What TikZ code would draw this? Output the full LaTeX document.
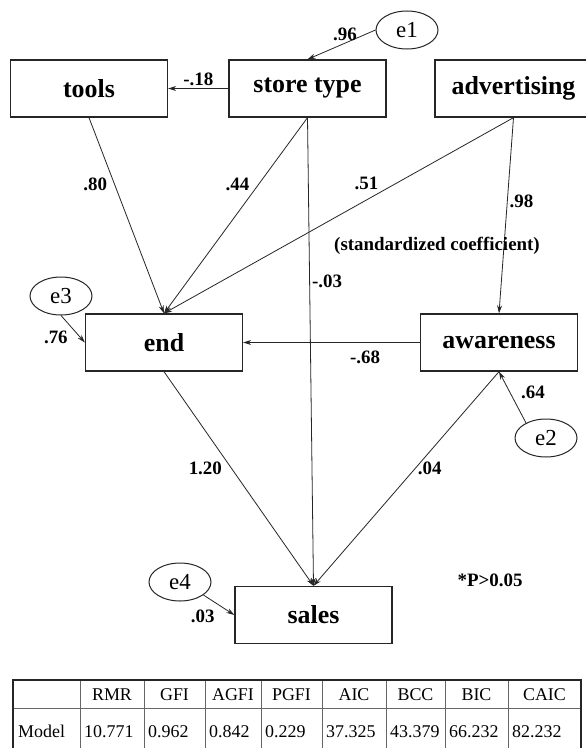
\documentclass[tikz,border=0pt]{standalone}
\usepackage{fontspec}
\setmainfont{Liberation Serif}
\usetikzlibrary{shapes.geometric,arrows.meta}
\begin{document}
\begin{tikzpicture}[x=1bp,y=-1bp,
  box/.style={rectangle,draw=black!85,line width=1.3bp,minimum width=157bp,minimum height=57bp,font=\bfseries\fontsize{26}{28}\selectfont},
  err/.style={ellipse,draw=black!85,line width=1bp,minimum width=62bp,minimum height=38bp,inner sep=0pt,font=\fontsize{23}{25}\selectfont},
  coef/.style={font=\bfseries\fontsize{19}{21}\selectfont,inner sep=2bp},
  link/.style={->,line width=0.8bp,draw=black!85},
  cell/.style={font=\fontsize{18}{20}\selectfont,inner sep=1bp},
  >={Stealth[length=8bp,width=5bp]}]
\useasboundingbox (0,0) rectangle (586,748);
\clip (0,0) rectangle (586,748);
\fill[white] (0,0) rectangle (586,748);
% variables
\node[box] (tools) at (89,88.5) {tools};
\node[box] (store) at (307.5,88.5) {store type};
\node[box] (adv) at (513.5,88.5) {advertising};
\node[box] (end) at (164,342.5) {end};
\node[box] (aware) at (499,342.5) {awareness};
\node[box] (sales) at (313.5,615) {sales};
% error terms
\node[err] (e1) at (407,30) {e1};
\node[err] (e2) at (546,438) {e2};
\node[err] (e3) at (61,296) {e3};
\node[err] (e4) at (180,582) {e4};
% paths
\draw[link] (e1.west) -- (store.north) node[coef,pos=0.45,above] {.96};
\draw[link] (store.west) -- (tools.east) node[coef,midway,above] {-.18};
\draw[link] (tools.south) -- (end.north) node[coef,pos=0.34,left=5bp] {.80};
\draw[link] (store.south) -- (end.north) node[coef,pos=0.34,left=7bp] {.44};
\draw[link] (adv.south) -- (end.north) node[coef,pos=0.38,above left] {.51};
\draw[link] (store.south) -- (sales.north) node[coef,pos=0.35,right] {-.03};
\draw[link] (adv.south) -- (aware.north) node[coef,pos=0.43,right] {.98};
\draw[link] (aware.west) -- (end.east) node[coef,pos=0.31,below=6bp] {-.68};
\draw[link] (end.south) -- (sales.north) node[coef,pos=0.45,left=7bp] {1.20};
\draw[link] (aware.south) -- (sales.north) node[coef,pos=0.45,right] {.04};
\draw[link] (e3.south) -- (end.west) node[coef,pos=0.8,left=10bp] {.76};
\draw[link] (e2.143) -- (aware.south) node[coef,pos=0.6,right=9bp] {.64};
\draw[link] (e4.-29) -- (sales.west) node[coef,midway,below left=2bp] {.03};
% notes
\node[coef] (note) at (437,246) {(standardized coefficient)};
\node[coef] (sig) at (490,580) {*P>0.05};
% fit table
\foreach \x in {80,144,205,261,322,386,445,508}
  \draw[black!60,line width=0.6bp] (\x,680) -- (\x,753);
\draw[black!60,line width=0.6bp] (13,708) -- (581,708);
\draw[black!85,line width=1.2bp] (13,680) rectangle (581,753);
\node[cell,anchor=base west] (model) at (17,737) {Model};
\foreach \x/\l/\h/\v [count=\i] in {112/80/RMR/10.771,174.5/144/GFI/0.962,233/205/AGFI/0.842,291.5/261/PGFI/0.229,354/322/AIC/37.325,415.5/386/BCC/43.379,476.5/445/BIC/66.232,544.5/508/CAIC/82.232}{
  \node[cell,anchor=base] (h\i) at (\x,700) {\h};
  \node[cell,anchor=base west] (v\i) at (\l+3,737) {\v};
}
\end{tikzpicture}
\end{document}
